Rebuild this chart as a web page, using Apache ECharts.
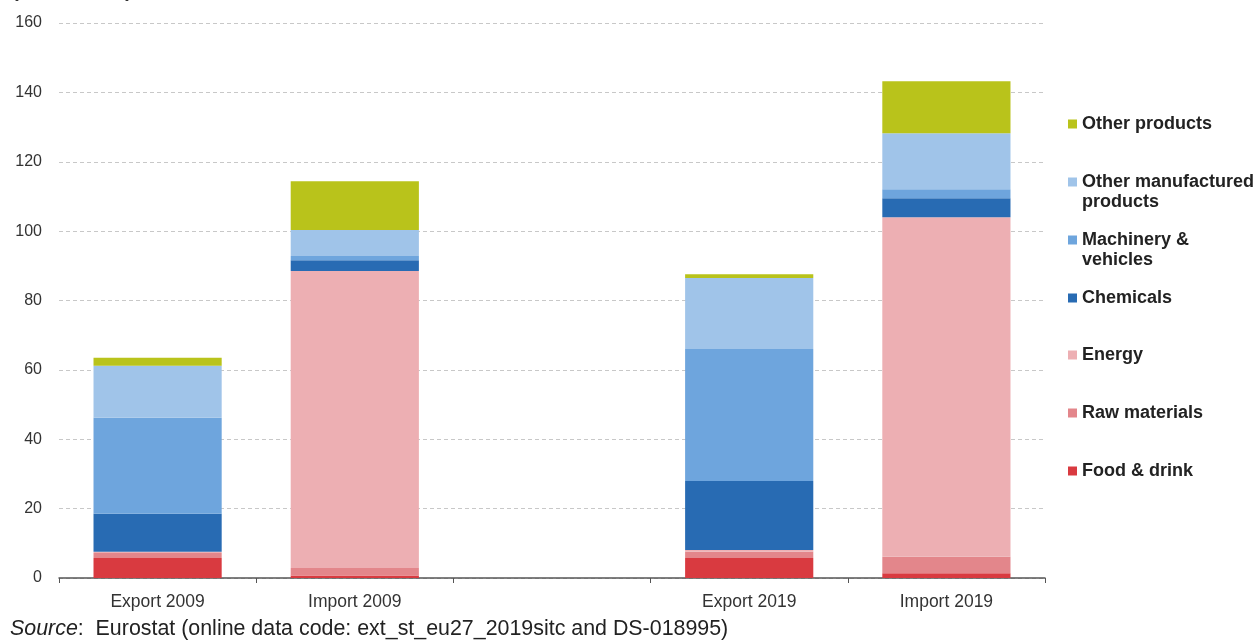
<!DOCTYPE html>
<html>
<head>
<meta charset="utf-8">
<style>
  html, body { margin: 0; padding: 0; background: #fff; }
  #chart { width: 1255px; height: 641px; }
</style>
<script src="https://cdn.jsdelivr.net/npm/echarts@6/dist/echarts.min.js"></script>
</head>
<body>
<div id="chart"></div>
<script>
// data (EUR billion)
const categories = ['Export 2009', 'Import 2009', '', 'Export 2019', 'Import 2019'];
const foodDrink = [5.8, 0.7, '-', 5.8, 1.4];
const rawMaterials = [1.4, 2.2, '-', 1.8, 4.7];
const energy = [0.4, 85.6, '-', 0.5, 97.9];
const chemicals = [10.9, 3.1, '-', 19.9, 5.5];
const machinery = [27.7, 1.2, '-', 38.0, 2.6];
const otherManufactured = [15.0, 7.5, '-', 20.5, 16.1];
const otherProducts = [2.3, 14.1, '-', 1.1, 15.0];
const yTicks = [0, 20, 40, 60, 80, 100, 120, 140, 160];

const seriesDefs = [
    { name: 'Food & drink', data: foodDrink, color: '#d93a40' },
    { name: 'Raw materials', data: rawMaterials, color: '#e3868b' },
    { name: 'Energy', data: energy, color: '#edafb3' },
    { name: 'Chemicals', data: chemicals, color: '#286bb3' },
    { name: 'Machinery & vehicles', data: machinery, color: '#6ea5dd' },
    { name: 'Other manufactured products', data: otherManufactured, color: '#a0c4e9' },
    { name: 'Other products', data: otherProducts, color: '#b9c31b' }
];

// legend labels wrap like the original
const legendLabels = {
    'Other manufactured products': 'Other manufactured\nproducts',
    'Machinery & vehicles': 'Machinery &\nvehicles'
};
const legendRows = [124, 182, 240, 298, 355, 413, 471];

const chart = echarts.init(document.getElementById('chart'));

const legends = seriesDefs.slice().reverse().map(function (s, i) {
    const twoLines = !!legendLabels[s.name];
    return {
        left: 1068,
        top: twoLines ? legendRows[i] - 30 : legendRows[i] - 10,
        orient: 'vertical',
        padding: 0,
        itemWidth: 9,
        itemHeight: 9,
        icon: 'rect',
        selectedMode: false,
        data: [s.name],
        formatter: function (name) {
            return legendLabels[name] ? ' \n' + legendLabels[name] : name;
        },
        textStyle: {
            fontFamily: 'Liberation Sans',
            fontSize: 18,
            fontWeight: 'bold',
            lineHeight: 20,
            color: '#222'
        }
    };
});

const option = {
    animation: false,
    backgroundColor: '#fff',
    grid: {
        left: 59,
        right: 210,
        top: 23,
        bottom: 63
    },
    legend: legends,
    xAxis: {
        type: 'category',
        data: categories,
        axisLine: { lineStyle: { color: '#555', width: 1.5 } },
        axisTick: { show: true, length: 5, lineStyle: { color: '#555' } },
        axisLabel: {
            margin: 15,
            fontFamily: 'Liberation Sans',
            fontSize: 17.5,
            color: '#333'
        }
    },
    yAxis: {
        type: 'value',
        min: yTicks[0],
        max: yTicks[yTicks.length - 1],
        interval: 20,
        axisLine: { show: false },
        axisTick: { show: false },
        axisLabel: {
            margin: 17,
            fontFamily: 'Liberation Sans',
            fontSize: 16,
            color: '#333'
        },
        splitLine: {
            lineStyle: { color: '#c8c8c8', type: [4, 3], width: 1 }
        }
    },
    series: seriesDefs.map(function (s) {
        return {
            name: s.name,
            type: 'bar',
            stack: 'total',
            barWidth: '65%',
            data: s.data,
            itemStyle: { color: s.color }
        };
    }),
    graphic: [
        {
            type: 'text',
            left: 12,
            top: -19,
            style: {
                text: '(EUR billion)',
                fontFamily: 'Liberation Sans',
                fontSize: 20,
                fontWeight: 'bold',
                fill: '#333'
            }
        },
        {
            type: 'text',
            left: 10,
            top: 619,
            style: {
                text: '{i|Source}{n|:  Eurostat (online data code: ext_st_eu27_2019sitc and DS-018995)}',
                rich: {
                    i: { fontFamily: 'Liberation Sans', fontSize: 21.4, fontStyle: 'italic', fill: '#222' },
                    n: { fontFamily: 'Liberation Sans', fontSize: 21.4, fill: '#222' }
                }
            }
        }
    ]
};

chart.setOption(option);

window.addEventListener('resize', function () {
    chart.resize();
});
</script>
</body>
</html>
